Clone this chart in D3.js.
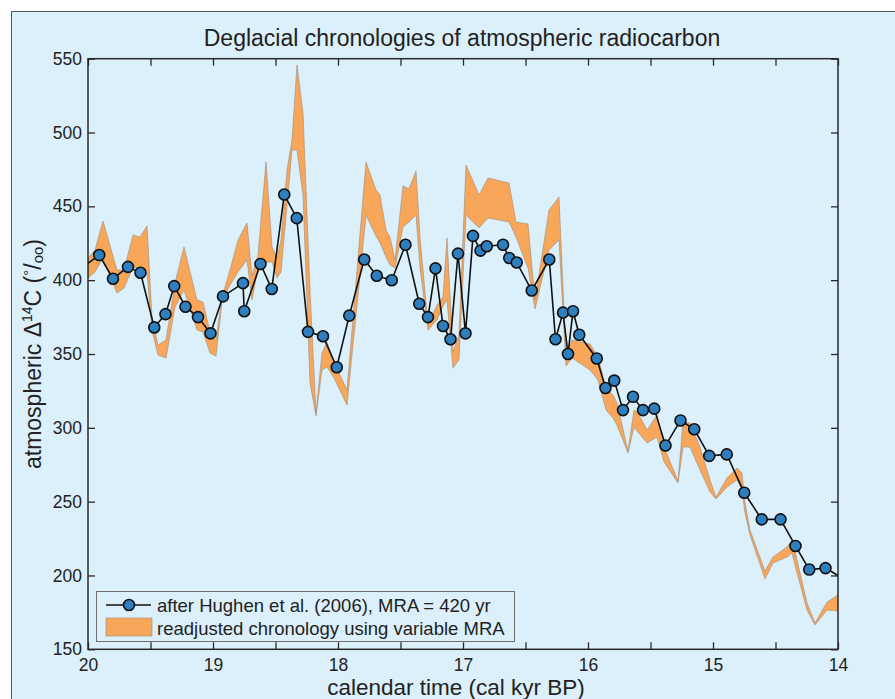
<!DOCTYPE html>
<html>
<head>
<meta charset="utf-8">
<script src="https://cdn.jsdelivr.net/npm/d3@7"></script>
<style>
  html, body { margin: 0; padding: 0; background: #ffffff; }
  svg { display: block; }
  text { font-family: "Liberation Sans", Arial, Helvetica, sans-serif; fill: #222; }
</style>
</head>
<body>
<script>
// ---------------- DATA ----------------
const titleText = "Deglacial chronologies of atmospheric radiocarbon";
const xLabelText = "calendar time (cal kyr BP)";
const legendLabels = ["after Hughen et al. (2006), MRA = 420 yr", "readjusted chronology using variable MRA"];

const xTicks = [14, 14.5, 15, 15.5, 16, 16.5, 17, 17.5, 18, 18.5, 19, 19.5, 20];
const xTickLabels = ["14", "", "15", "", "16", "", "17", "", "18", "", "19", "", "20"];
const yTicks = [150, 200, 250, 300, 350, 400, 450, 500, 550];

// Hughen et al. (2006) series: calendar age (kyr BP) and Δ14C (‰)
const hughenAge = [20.04, 19.91, 19.80, 19.68, 19.58, 19.47, 19.38, 19.31, 19.22, 19.12, 19.02, 18.92, 18.76, 18.75,
  18.62, 18.53, 18.43, 18.33, 18.24, 18.12, 18.01, 17.91, 17.79, 17.69, 17.57, 17.46, 17.35, 17.28, 17.22, 17.16,
  17.10, 17.04, 16.98, 16.92, 16.86, 16.81, 16.68, 16.63, 16.57, 16.45, 16.31, 16.26, 16.20, 16.16, 16.12, 16.07,
  15.93, 15.86, 15.79, 15.72, 15.64, 15.56, 15.47, 15.38, 15.26, 15.15, 15.03, 14.89, 14.75, 14.61, 14.46, 14.34,
  14.23, 14.10, 13.96];
const hughenD14C = [409, 417, 401, 409, 405, 368, 377, 396, 382, 375, 364, 389, 398, 379,
  411, 394, 458, 442, 365, 362, 341, 376, 414, 403, 400, 424, 384, 375, 408, 369,
  360, 418, 364, 430, 420, 423, 424, 415, 412, 393, 414, 360, 378, 350, 379, 363,
  347, 327, 332, 312, 321, 312, 313, 288, 305, 299, 281, 282, 256, 238, 238, 220,
  204, 205, 198];

// Readjusted chronology (variable MRA): envelope
const bandAge = [20.000, 19.944, 19.880, 19.768, 19.712, 19.640, 19.584, 19.528, 19.488, 19.440, 19.376, 19.304,
  19.232, 19.128, 19.080, 19.024, 18.976, 18.928, 18.864, 18.800, 18.728, 18.688, 18.640, 18.576, 18.528, 18.488,
  18.456, 18.408, 18.368, 18.328, 18.280, 18.224, 18.176, 18.128, 18.088, 18.032, 17.928, 17.776, 17.696, 17.664,
  17.616, 17.584, 17.544, 17.480, 17.432, 17.376, 17.344, 17.280, 17.208, 17.160, 17.128, 17.080, 17.032, 16.976,
  16.872, 16.800, 16.632, 16.576, 16.480, 16.424, 16.312, 16.232, 16.176, 16.128, 15.984, 15.920, 15.856, 15.800,
  15.768, 15.680, 15.632, 15.600, 15.528, 15.448, 15.392, 15.280, 15.240, 15.184, 15.104, 15.024, 14.976, 14.888,
  14.808, 14.768, 14.744, 14.704, 14.584, 14.520, 14.408, 14.368, 14.328, 14.248, 14.184, 14.088, 14.000];
const bandUpper = [415.0, 420.4, 440.1, 406.9, 406.9, 430.6, 429.2, 436.7, 374.4, 356.1, 359.5, 398.1,
  422.5, 386.6, 385.2, 364.9, 359.5, 388.6, 406.9, 427.2, 438.7, 402.8, 417.1, 480.0, 422.5, 415.0,
  427.2, 474.6, 494.9, 545.7, 513.2, 393.3, 310.0, 350.7, 358.1, 344.6, 325.6, 480.0, 461.1, 457.7,
  434.0, 429.2, 413.7, 463.8, 461.8, 473.9, 429.2, 369.6, 383.2, 388.6, 428.6, 351.4, 362.9, 478.0,
  457.7, 469.2, 465.8, 439.4, 438.0, 386.6, 447.5, 456.3, 349.3, 359.5, 356.8, 348.0, 327.0, 322.2,
  316.8, 284.3, 312.1, 310.0, 298.5, 308.7, 287.0, 264.0, 303.9, 303.3, 287.0, 264.7, 253.1, 266.0,
  272.8, 269.4, 249.1, 230.8, 203.0, 212.5, 219.3, 224.0, 210.5, 181.4, 167.8, 182.0, 186.8];
const bandLower = [401.5, 405.5, 415.0, 391.3, 394.7, 408.9, 408.2, 404.9, 366.3, 349.3, 347.3, 381.8,
  393.3, 366.3, 364.9, 350.7, 348.6, 385.2, 396.7, 405.5, 413.7, 386.6, 408.2, 412.3, 412.3, 401.5,
  405.5, 450.9, 488.2, 488.2, 457.7, 330.4, 308.0, 339.2, 341.2, 333.7, 315.5, 444.1, 429.9, 425.2,
  415.7, 410.3, 408.2, 436.0, 439.4, 444.1, 408.2, 366.3, 373.0, 382.5, 386.6, 340.5, 346.0, 444.1,
  435.3, 442.1, 439.4, 429.2, 408.2, 380.5, 420.4, 427.2, 341.9, 347.3, 339.2, 332.4, 312.1, 306.7,
  301.9, 283.0, 300.6, 297.2, 289.7, 293.8, 276.9, 262.6, 287.0, 287.0, 271.4, 256.5, 251.8, 259.9,
  264.7, 257.9, 242.3, 227.4, 197.6, 208.4, 212.5, 215.2, 201.7, 176.6, 166.5, 176.6, 175.9];

// ---------------- LAYOUT ----------------
const W = 895, H = 699;
const plot = { left: 88, right: 838, top: 58.7, bottom: 649.3 };
const bg = "#dcf0fb";
const axisColor = "#2a2a2a";
const orange = "#f8a75a";
const markerFill = "#2f7fbf";

const svg = d3.select("body").append("svg").attr("width", W).attr("height", H);

svg.append("rect").attr("x", 11.5).attr("y", 11.5).attr("width", W + 10).attr("height", H + 10)
  .attr("fill", bg).attr("stroke", "#555").attr("stroke-width", 1);

const x = d3.scaleLinear().domain([20, 14]).range([plot.left, plot.right]);
const y = d3.scaleLinear().domain([150, 550]).range([plot.bottom, plot.top]);

svg.append("defs").append("clipPath").attr("id", "clip")
  .append("rect").attr("x", plot.left).attr("y", plot.top)
  .attr("width", plot.right - plot.left).attr("height", plot.bottom - plot.top);

const g = svg.append("g").attr("clip-path", "url(#clip)");

// band
const bandData = bandAge.map((a, i) => ({ a, u: bandUpper[i], l: bandLower[i] }));
g.append("path").datum(bandData)
  .attr("d", d3.area().x(d => x(d.a)).y0(d => y(d.l)).y1(d => y(d.u)))
  .attr("fill", orange).attr("stroke", "#9c8a78").attr("stroke-width", 0.6).attr("stroke-linejoin", "round");

// Hughen line
const hData = hughenAge.map((a, i) => ({ a, v: hughenD14C[i] }));
g.append("path").datum(hData)
  .attr("d", d3.line().x(d => x(d.a)).y(d => y(d.v)))
  .attr("fill", "none").attr("stroke", "#111").attr("stroke-width", 1.6);

g.selectAll("circle.m").data(hData.filter(d => d.a <= 20 && d.a >= 14)).enter()
  .append("circle").attr("class", "m")
  .attr("cx", d => x(d.a)).attr("cy", d => y(d.v)).attr("r", 5.5)
  .attr("fill", markerFill).attr("stroke", "#111").attr("stroke-width", 1.6);

// axes
function styleAxis(sel) {
  sel.selectAll("path.domain").remove();
  sel.selectAll(".tick line").attr("stroke", axisColor).attr("stroke-width", 1.3);
  sel.selectAll(".tick text").attr("font-size", 17.5).attr("fill", "#222")
    .attr("font-family", "'Liberation Sans', Arial, sans-serif");
}
const bottomAxis = d3.axisBottom(x).tickValues(xTicks)
  .tickFormat((d, i) => xTickLabels[i]).tickSize(-7).tickPadding(9);
svg.append("g").attr("transform", `translate(0,${plot.bottom})`).call(bottomAxis).call(styleAxis);
svg.append("g").attr("transform", `translate(0,${plot.top})`)
  .call(d3.axisTop(x).tickValues(xTicks).tickFormat("").tickSize(-7)).call(styleAxis);
svg.append("g").attr("transform", `translate(${plot.left},0)`)
  .call(d3.axisLeft(y).tickValues(yTicks).tickFormat(d3.format("d")).tickSize(-7).tickPadding(6)).call(styleAxis);
svg.append("g").attr("transform", `translate(${plot.right},0)`)
  .call(d3.axisRight(y).tickValues(yTicks).tickFormat("").tickSize(-7)).call(styleAxis);

svg.append("rect").attr("x", plot.left).attr("y", plot.top)
  .attr("width", plot.right - plot.left).attr("height", plot.bottom - plot.top)
  .attr("fill", "none").attr("stroke", axisColor).attr("stroke-width", 1.5);

// title & labels
svg.append("text").attr("x", 462).attr("y", 46)
  .attr("text-anchor", "middle").attr("font-size", 23).text(titleText);
svg.append("text").attr("x", 456).attr("y", 695)
  .attr("text-anchor", "middle").attr("font-size", 22.5).text(xLabelText);

const yl = svg.append("text")
  .attr("transform", `translate(41,${(plot.top + plot.bottom) / 2}) rotate(-90)`)
  .attr("text-anchor", "middle").attr("font-size", 23);
yl.append("tspan").text("atmospheric \u0394");
yl.append("tspan").attr("font-size", 14).attr("dy", -9).text("14");
yl.append("tspan").attr("dy", 9).text("C (");
yl.append("tspan").attr("font-size", 15).attr("dy", -7).text("\u00B0");
yl.append("tspan").attr("dy", 7).text("/");
yl.append("tspan").attr("font-size", 15).attr("dy", 2).text("oo");
yl.append("tspan").attr("dy", -2).text(")");

// legend
const lg = svg.append("g");
lg.append("rect").attr("x", 96.5).attr("y", 591.5).attr("width", 418).attr("height", 50)
  .attr("fill", bg).attr("stroke", "#6e6e6e").attr("stroke-width", 1);
lg.append("line").attr("x1", 106).attr("x2", 151).attr("y1", 605).attr("y2", 605)
  .attr("stroke", "#111").attr("stroke-width", 1.6);
lg.append("circle").attr("cx", 129).attr("cy", 605).attr("r", 5.5)
  .attr("fill", markerFill).attr("stroke", "#111").attr("stroke-width", 1.6);
lg.append("text").attr("x", 157).attr("y", 611.5).attr("font-size", 18.5).text(legendLabels[0]);
lg.append("rect").attr("x", 106).attr("y", 618).attr("width", 46).attr("height", 18)
  .attr("fill", orange).attr("stroke", "#9c8a78").attr("stroke-width", 0.6);
lg.append("text").attr("x", 157).attr("y", 634.5).attr("font-size", 18.5).text(legendLabels[1]);
</script>
</body>
</html>
